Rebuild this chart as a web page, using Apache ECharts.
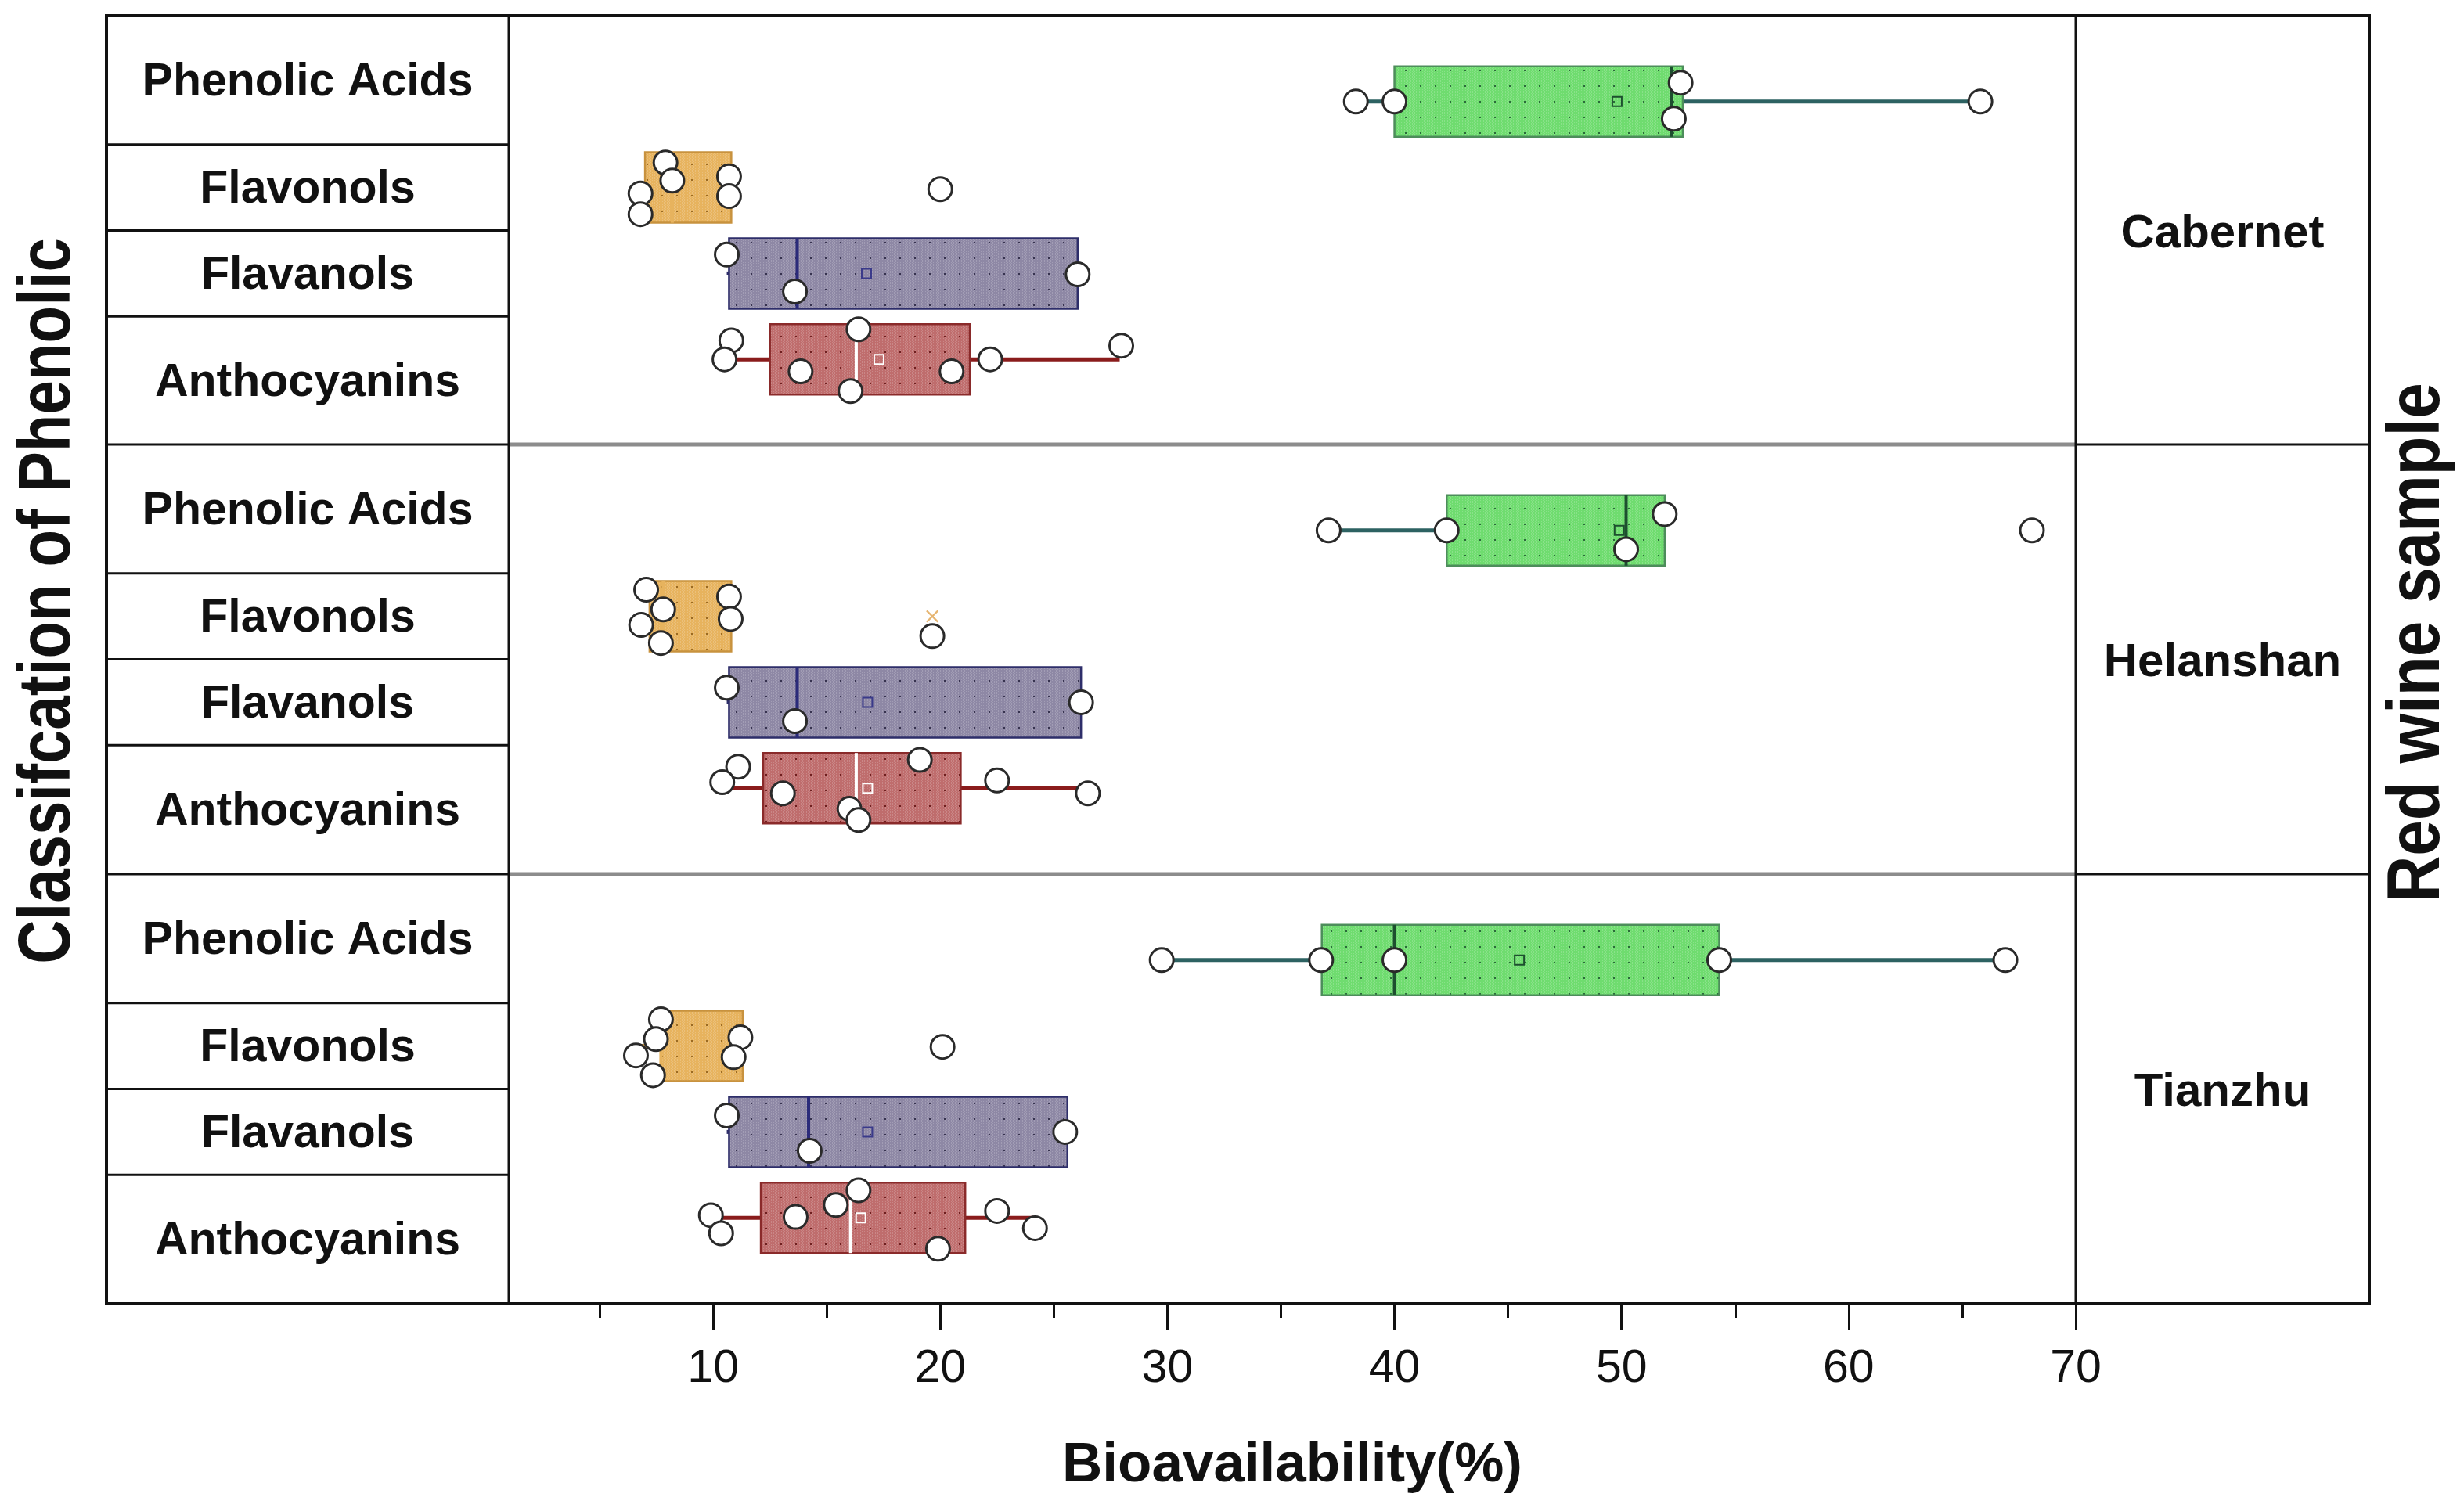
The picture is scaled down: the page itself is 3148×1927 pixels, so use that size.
<!DOCTYPE html>
<html>
<head>
<meta charset="utf-8">
<script src="https://cdn.jsdelivr.net/npm/echarts@6/dist/echarts.min.js"></script>
<style>
  html, body { margin: 0; padding: 0; background: #fff; }
  #main { width: 3148px; height: 1927px; }
</style>
</head>
<body>
<div id="main"></div>
<script>
// classes from bottom (1) to top (4) inside each panel
var classNames = ['Anthocyanins', 'Flavanols', 'Flavonols', 'Phenolic Acids'];
var wines = ['Cabernet', 'Helanshan', 'Tianzhu'];
var xTicks = [10, 20, 30, 40, 50, 60, 70];
var xMinorTicks = [5, 15, 25, 35, 45, 55, 65];

// box stats per class: [min, q1, median, q3, max, mean]
var cabernetStats = [
    [10.5, 12.5, 16.3, 21.3, 27.9, 17.3],
    [10.6, 10.7, 13.7, 26.05, 26.05, 16.75],
    [6.8, 7.0, 8.2, 10.8, 10.8, null],
    [38.3, 40.0, 52.2, 52.7, 65.8, 49.8]
];
var helanshanStats = [
    [10.4, 12.2, 16.3, 20.9, 26.5, 16.8],
    [10.6, 10.7, 13.7, 26.2, 26.2, 16.8],
    [6.8, 7.2, 7.8, 10.8, 10.8, null],
    [37.1, 42.3, 50.2, 51.9, 51.9, 49.9]
];
var tianzhuStats = [
    [9.9, 12.1, 16.05, 21.1, 24.2, 16.5],
    [10.6, 10.7, 14.2, 25.6, 25.6, 16.8],
    [6.6, 7.7, 7.7, 11.3, 11.3, null],
    [29.75, 36.8, 40.0, 54.3, 66.9, 45.5]
];

// raw points per class: [value, vertical jitter]
var cabernetPoints = [
    [[10.8, 0.22], [10.5, 0], [13.85, -0.14], [16.4, 0.35], [16.05, -0.37], [20.5, -0.14], [22.2, 0], [27.97, 0.16]],
    [[10.6, 0.22], [26.05, -0.01], [13.6, -0.21]],
    [[7.9, 0.29], [8.2, 0.08], [10.7, 0.13], [10.7, -0.1], [6.8, -0.07], [6.8, -0.31], [20.0, -0.02]],
    [[38.3, 0], [40.0, 0], [52.6, 0.22], [52.3, -0.2], [65.8, 0]]
];
var helanshanPoints = [
    [[11.1, 0.25], [10.4, 0.07], [13.07, -0.06], [19.1, 0.33], [16.0, -0.24], [16.4, -0.37], [22.5, 0.09], [26.5, -0.06]],
    [[10.6, 0.17], [26.2, 0], [13.6, -0.22]],
    [[7.05, 0.31], [10.7, 0.23], [7.8, 0.08], [10.77, -0.03], [6.83, -0.1], [7.7, -0.31], [19.65, -0.23]],
    [[37.1, 0], [42.3, 0], [51.9, 0.19], [50.2, -0.22], [68.07, 0]]
];
var tianzhuPoints = [
    [[9.9, 0.03], [10.35, -0.18], [13.63, 0.01], [15.4, 0.15], [16.4, 0.32], [22.5, 0.08], [24.17, -0.12], [19.9, -0.36]],
    [[10.6, 0.19], [25.5, 0], [14.25, -0.22]],
    [[7.7, 0.31], [7.48, 0.08], [11.2, 0.1], [6.6, -0.11], [10.9, -0.13], [7.35, -0.34], [20.1, -0.01]],
    [[29.75, 0], [36.77, 0], [40.0, 0], [54.3, 0], [66.9, 0]]
];
// 1%/99% cross marker (Helanshan, Flavonols)
var helanshanCross = [[19.65, 0.0]];

var allStats = [cabernetStats, helanshanStats, tianzhuStats];
var allPoints = [cabernetPoints, helanshanPoints, tianzhuPoints];

// styles per class
var boxBase = ['#bf6d6d', '#8e88a5', '#e7b35e', '#6fdc6f'];
var boxDot = ['#6e1f1f', '#36324e', '#9a6a22', '#2a6a3a'];
var boxEdge = ['#8a2a2a', '#2e2e6a', '#c8923e', '#4d8d5b'];
var whiskerColor = ['#8a1c1c', '#2e2e6a', '#c8923e', '#2d6262'];
var medianColor = ['#ffffff', '#2b2b7a', '#e7b35e', '#1d4f2f'];
var meanColor = ['#ffffff', '#3a3a8a', '#e7b35e', '#1d4f2f'];

var FONT = "'Liberation Sans', Arial, sans-serif";

function makePattern(base, dot) {
    var c = document.createElement('canvas');
    c.width = 19;
    c.height = 20;
    var g = c.getContext('2d');
    g.fillStyle = base;
    g.fillRect(0, 0, 19, 20);
    g.fillStyle = 'rgba(255,255,255,0.18)';
    for (var i = 0; i < 19; i += 2) {
        for (var j = (i / 2) % 2; j < 20; j += 2) {
            g.fillRect(i, j, 1, 1);
        }
    }
    g.fillStyle = dot;
    g.fillRect(9, 9, 2, 2);
    return {image: c, repeat: 'repeat'};
}
var patterns = boxBase.map(function (b, i) { return makePattern(b, boxDot[i]); });

function renderBox(params, api) {
    var pos = api.value(0);
    var lo = api.value(1), q1 = api.value(2), med = api.value(3),
        q3 = api.value(4), hi = api.value(5), mean = api.value(6), k = api.value(7);
    var half = api.size([0, 0.41])[1];
    var pQ1 = api.coord([q1, pos]);
    var pQ3 = api.coord([q3, pos]);
    var pLo = api.coord([lo, pos]);
    var pHi = api.coord([hi, pos]);
    var pMed = api.coord([med, pos]);
    var cy = pQ1[1];
    var children = [];
    children.push({
        type: 'line', shape: {x1: pLo[0], y1: cy, x2: pQ1[0], y2: cy},
        style: {stroke: whiskerColor[k], lineWidth: 5}
    });
    children.push({
        type: 'line', shape: {x1: pQ3[0], y1: cy, x2: pHi[0], y2: cy},
        style: {stroke: whiskerColor[k], lineWidth: 5}
    });
    children.push({
        type: 'rect', shape: {x: pQ1[0], y: cy - half, width: pQ3[0] - pQ1[0], height: 2 * half},
        style: {fill: patterns[k], stroke: boxEdge[k], lineWidth: 2.5}
    });
    children.push({
        type: 'line', shape: {x1: pMed[0], y1: cy - half, x2: pMed[0], y2: cy + half},
        style: {stroke: medianColor[k], lineWidth: 4}
    });
    if (!isNaN(mean)) {
        var pMean = api.coord([mean, pos]);
        children.push({
            type: 'rect', shape: {x: pMean[0] - 6, y: cy - 6, width: 12, height: 12},
            style: {fill: 'none', stroke: meanColor[k], lineWidth: 2}
        });
    }
    return {type: 'group', children: children};
}

var PANEL_TOP = [20, 568, 1117];
var PANEL_H = 549;

var grids = [], xAxes = [], yAxes = [], series = [];
for (var w = 0; w < 3; w++) {
    grids.push({left: 650, width: 2002, top: PANEL_TOP[w], height: PANEL_H});
    yAxes.push({gridIndex: w, type: 'value', min: 0, max: 5, show: false});
    xAxes.push({
        gridIndex: w, type: 'value', min: 1, max: 70, show: w === 2,
        axisLine: {show: false},
        splitLine: {show: false},
        axisTick: {show: true, length: 33, lineStyle: {color: '#111', width: 3}, customValues: xTicks},
        axisLabel: {customValues: xTicks, fontSize: 59, margin: 54, color: '#111', fontFamily: FONT},
        name: w === 2 ? 'Bioavailability(%)' : '',
        nameLocation: 'middle',
        nameGap: 172,
        nameTextStyle: {fontSize: 71, fontWeight: 'bold', color: '#111', fontFamily: FONT}
    });

    var boxRows = allStats[w].map(function (s, c) {
        return [c + 1, s[0], s[1], s[2], s[3], s[4], s[5] == null ? NaN : s[5], c];
    });
    series.push({
        type: 'custom', xAxisIndex: w, yAxisIndex: w, z: 2,
        renderItem: renderBox,
        encode: {x: [1, 2, 3, 4, 5], y: 0},
        data: boxRows,
        silent: true
    });

    var pts = [];
    allPoints[w].forEach(function (list, c) {
        list.forEach(function (p) { pts.push([p[0], c + 1 + p[1]]); });
    });
    series.push({
        type: 'scatter', xAxisIndex: w, yAxisIndex: w, z: 4,
        symbol: 'circle', symbolSize: 30,
        itemStyle: {color: '#ffffff', borderColor: '#2a2a2a', borderWidth: 3, opacity: 1},
        data: pts,
        silent: true
    });
}
series.push({
    type: 'scatter', xAxisIndex: 1, yAxisIndex: 1, z: 5,
    symbol: 'path://M0,1L1,0L5,4L9,0L10,1L6,5L10,9L9,10L5,6L1,10L0,9L4,5Z',
    symbolSize: 16,
    itemStyle: {color: '#e0a24e'},
    data: helanshanCross.map(function (p) { return [p[0], 3 + p[1]]; }),
    silent: true
});
// minor ticks on the bottom axis
xAxes.push({
    gridIndex: 2, type: 'value', min: 1, max: 70, position: 'bottom',
    axisLine: {show: false}, splitLine: {show: false},
    axisLabel: {show: false},
    axisTick: {show: true, length: 18, lineStyle: {color: '#111', width: 3}, customValues: xMinorTicks}
});

var option = {
    backgroundColor: '#ffffff',
    animation: false,
    grid: grids,
    xAxis: xAxes,
    yAxis: yAxes,
    series: series
};

var chart = echarts.init(document.getElementById('main'));
chart.setOption(option);

// table frame, row labels and side titles
var FRAME_L = 136, FRAME_R = 3027, FRAME_T = 20, FRAME_B = 1666;
var plotL = chart.convertToPixel({gridIndex: 0}, [1, 0])[0];
var plotR = chart.convertToPixel({gridIndex: 0}, [70, 0])[0];
function py(w, v) { return chart.convertToPixel({gridIndex: w}, [1, v])[1]; }
function hline(x1, x2, y, color, width) {
    return {type: 'line', shape: {x1: x1, y1: y, x2: x2, y2: y}, style: {stroke: color, lineWidth: width}, z: 10};
}
function label(text, x, y, size, weight, rot, sx) {
    return {
        type: 'text', x: x, y: y, rotation: rot || 0, scaleX: sx || 1, z: 10,
        style: {text: text, fill: '#111', fontSize: size, fontWeight: weight, fontFamily: FONT,
            align: 'center', verticalAlign: 'middle'}
    };
}

var labelCenters = [0.75, 2, 3, 4.25];
var rowCuts = [1.5, 2.5, 3.5];
var graphics = [];
for (var i = 0; i < 3; i++) {
    rowCuts.forEach(function (v) { graphics.push(hline(FRAME_L, plotL, py(i, v), '#111', 3)); });
    labelCenters.forEach(function (v, c) {
        graphics.push(label(classNames[c], (FRAME_L + plotL) / 2, py(i, v) + 3, 59, 'bold'));
    });
    graphics.push(label(wines[i], (plotR + FRAME_R) / 2, py(i, 2.5) + 5, 60, 'bold'));
    if (i > 0) {
        var yy = py(i, 5);
        graphics.push(hline(FRAME_L, plotL, yy, '#111', 3));
        graphics.push(hline(plotL, plotR, yy, '#8c8c8c', 5));
        graphics.push(hline(plotR, FRAME_R, yy, '#111', 3));
    }
}
graphics.push({type: 'line', shape: {x1: plotL, y1: FRAME_T, x2: plotL, y2: FRAME_B}, style: {stroke: '#111', lineWidth: 3}, z: 10});
graphics.push({type: 'line', shape: {x1: plotR, y1: FRAME_T, x2: plotR, y2: FRAME_B}, style: {stroke: '#111', lineWidth: 3}, z: 10});
graphics.push({
    type: 'rect', z: 11,
    shape: {x: FRAME_L, y: FRAME_T, width: FRAME_R - FRAME_L, height: FRAME_B - FRAME_T},
    style: {fill: 'none', stroke: '#111', lineWidth: 4}
});
// side titles: condensed letters, as in the original
graphics.push(label('Classifcation of Phenolic', 63, 768, 94, 'bold', Math.PI / 2, 0.83));
graphics.push(label('Red wine sample', 3090, 821, 94, 'bold', Math.PI / 2, 0.87));

chart.setOption({graphic: graphics});
</script>
</body>
</html>
